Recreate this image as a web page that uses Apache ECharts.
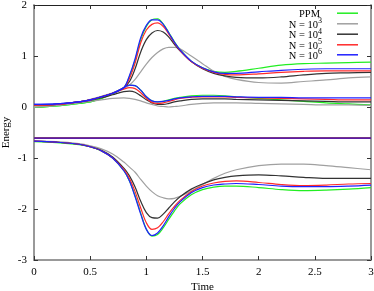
<!DOCTYPE html>
<html><head><meta charset="utf-8">
<script src="https://cdn.jsdelivr.net/npm/echarts@6/dist/echarts.min.js"></script>
<style>html,body{margin:0;padding:0;background:#fff}#c{width:374px;height:291px}</style>
</head><body><div id="c"></div>
<script>
const times = [0, 0.2, 0.4, 0.5, 0.6, 0.7, 0.8, 0.85, 0.9, 0.95, 1.0, 1.05, 1.1, 1.15, 1.2, 1.25, 1.3, 1.4, 1.5, 1.6, 1.7, 1.8, 2.0, 2.2, 2.4, 2.6, 2.8, 3.0];
const seriesNames = ['PPM', 'N = 10^3', 'N = 10^4', 'N = 10^5', 'N = 10^6'];
const xTicks = [0, 0.5, 1, 1.5, 2, 2.5, 3];
const yTicks = [-3, -2, -1, 0, 1, 2];

// upper state
const ppmUpper = [-0.01,0.02,0.07,0.10,0.17,0.26,0.38,0.60,0.92,1.32,1.58,1.71,1.73,1.63,1.46,1.28,1.13,0.90,0.77,0.70,0.68,0.70,0.76,0.82,0.85,0.86,0.87,0.88];
const n3Upper = [0.00,0.03,0.10,0.15,0.21,0.28,0.37,0.43,0.54,0.69,0.84,0.97,1.07,1.14,1.17,1.17,1.14,1.00,0.85,0.70,0.60,0.54,0.48,0.47,0.50,0.53,0.57,0.59];
const n4Upper = [0.04,0.05,0.10,0.14,0.20,0.27,0.38,0.50,0.75,1.08,1.32,1.45,1.50,1.47,1.37,1.23,1.10,0.89,0.75,0.66,0.61,0.58,0.57,0.59,0.63,0.66,0.67,0.68];
const n5Upper = [0.04,0.05,0.10,0.14,0.20,0.27,0.38,0.56,0.86,1.26,1.51,1.62,1.65,1.58,1.43,1.26,1.11,0.89,0.76,0.68,0.64,0.63,0.65,0.68,0.70,0.71,0.71,0.71];
const n6Upper = [0.05,0.06,0.10,0.14,0.20,0.27,0.38,0.62,0.95,1.36,1.60,1.71,1.71,1.62,1.45,1.27,1.12,0.90,0.77,0.69,0.66,0.66,0.69,0.72,0.74,0.75,0.75,0.75];
// middle state
const ppmMiddle = [-0.01,0.02,0.07,0.10,0.17,0.26,0.38,0.43,0.42,0.33,0.20,0.12,0.10,0.11,0.14,0.17,0.19,0.22,0.23,0.23,0.22,0.20,0.17,0.14,0.11,0.08,0.06,0.04];
const n3Middle = [0.00,0.03,0.08,0.11,0.14,0.17,0.18,0.17,0.15,0.12,0.08,0.05,0.02,0.01,0.00,0.01,0.02,0.05,0.07,0.08,0.08,0.08,0.07,0.06,0.05,0.04,0.04,0.03];
const n4Middle = [0.04,0.05,0.10,0.13,0.18,0.24,0.30,0.31,0.29,0.22,0.14,0.08,0.05,0.05,0.07,0.10,0.12,0.15,0.16,0.16,0.16,0.15,0.14,0.13,0.12,0.11,0.10,0.10];
const n5Middle = [0.04,0.05,0.10,0.14,0.20,0.27,0.35,0.38,0.36,0.28,0.17,0.09,0.07,0.08,0.11,0.14,0.17,0.19,0.20,0.20,0.20,0.19,0.18,0.17,0.16,0.15,0.14,0.14];
const n6Middle = [0.05,0.06,0.10,0.14,0.20,0.27,0.38,0.43,0.42,0.33,0.20,0.12,0.10,0.11,0.13,0.16,0.18,0.20,0.21,0.21,0.21,0.20,0.19,0.19,0.18,0.18,0.18,0.18];
// constant state
const groundLevel = [-0.61, -0.61, -0.61, -0.61, -0.61];
// lower state
const ppmLower = [-0.68,-0.70,-0.74,-0.78,-0.86,-1.00,-1.25,-1.45,-1.74,-2.08,-2.39,-2.53,-2.50,-2.37,-2.20,-2.04,-1.90,-1.72,-1.62,-1.57,-1.55,-1.55,-1.58,-1.62,-1.64,-1.63,-1.61,-1.58];
const n3Lower = [-0.67,-0.68,-0.72,-0.76,-0.82,-0.92,-1.08,-1.18,-1.28,-1.42,-1.55,-1.66,-1.74,-1.78,-1.80,-1.79,-1.75,-1.65,-1.52,-1.40,-1.30,-1.23,-1.15,-1.12,-1.12,-1.15,-1.19,-1.23];
const n4Lower = [-0.67,-0.69,-0.73,-0.78,-0.85,-0.98,-1.20,-1.35,-1.57,-1.85,-2.07,-2.17,-2.18,-2.10,-1.98,-1.86,-1.76,-1.61,-1.51,-1.43,-1.38,-1.35,-1.33,-1.35,-1.38,-1.40,-1.40,-1.40];
const n5Lower = [-0.67,-0.69,-0.73,-0.78,-0.86,-1.00,-1.23,-1.40,-1.66,-1.98,-2.27,-2.40,-2.37,-2.25,-2.09,-1.95,-1.83,-1.66,-1.55,-1.49,-1.46,-1.45,-1.48,-1.52,-1.54,-1.53,-1.51,-1.50];
const n6Lower = [-0.67,-0.69,-0.73,-0.78,-0.86,-1.00,-1.25,-1.45,-1.76,-2.10,-2.40,-2.52,-2.47,-2.33,-2.15,-1.99,-1.86,-1.68,-1.58,-1.53,-1.51,-1.50,-1.52,-1.55,-1.56,-1.56,-1.55,-1.53];

const colors = ['#22ee22', '#a0a0a0', '#333333', '#ff2a2a', '#2020ff'];
const families = [
  [ppmUpper, ppmMiddle, ppmLower],
  [n3Upper, n3Middle, n3Lower],
  [n4Upper, n4Middle, n4Lower],
  [n5Upper, n5Middle, n5Lower],
  [n6Upper, n6Middle, n6Lower]
];
const FONT = 'Liberation Serif';

const series = [];
families.forEach((fam, i) => {
  fam.forEach(arr => {
    series.push({
      type: 'line', name: seriesNames[i], showSymbol: false, smooth: 0.35,
      data: times.map((t, k) => [t, arr[k]]),
      lineStyle: { color: colors[i], width: 1.2 }, itemStyle: { color: colors[i] },
      z: 2 + i
    });
  });
  series.push({
    type: 'line', name: seriesNames[i], showSymbol: false,
    data: [[times[0], groundLevel[i]], [times[times.length - 1], groundLevel[i]]],
    lineStyle: { color: i === 4 ? '#3515d0' : colors[i], width: 1.3 }, itemStyle: { color: colors[i] },
    z: 2 + i
  });
});

function fmtName(n) {
  const m = n.match(/^(.*)\^(\d+)$/);
  if (m) return '{b|' + m[1] + '}{s|' + m[2] + '}';
  return '{b|' + n + '}{s| }';
}
const legendTops = [6.7, 17.3, 27.7, 38.3, 48.3];
const legends = seriesNames.map((n, i) => ({
  show: true,
  data: [n], right: 16, top: legendTops[i], orient: 'horizontal', align: 'right',
  itemWidth: 21, itemHeight: 1.5, padding: 0, selectedMode: false,
  icon: 'rect',
  itemStyle: { color: colors[i] },
  formatter: fmtName,
  textStyle: {
    padding: [0, 10, 0, 0],
    rich: {
      b: { fontFamily: FONT, fontSize: 10.5, color: '#000', lineHeight: 13, verticalAlign: 'bottom' },
      s: { fontFamily: FONT, fontSize: 8, color: '#000', lineHeight: 13, verticalAlign: 'top' }
    }
  }
}));

const axisLabel = { fontFamily: FONT, fontSize: 11, color: '#000' };
const option = {
  animation: false,
  backgroundColor: '#fff',
  grid: { left: 34, right: 3, top: 5, bottom: 31, containLabel: false, outerBoundsMode: 'none' },
  legend: legends,
  xAxis: [{
    type: 'value', min: 0, max: 3, interval: 0.5,
    name: 'Time', nameLocation: 'middle', nameGap: 22, nameMoveOverlap: false,
    nameTextStyle: { fontFamily: FONT, fontSize: 11, color: '#000' },
    axisLine: { show: true, onZero: false, lineStyle: { color: '#999', width: 2 } },
    axisTick: { inside: true, length: 4, lineStyle: { color: '#333' } },
    axisLabel: Object.assign({ margin: 7, formatter: v => xTicks.includes(v) ? String(v) : '' }, axisLabel),
    splitLine: { show: false }
  }, {
    type: 'value', min: 0, max: 3, interval: 0.5, position: 'top',
    axisLine: { show: true, onZero: false, lineStyle: { color: '#222', width: 1 } },
    axisTick: { inside: true, length: 4, lineStyle: { color: '#333' } },
    axisLabel: { show: false }, splitLine: { show: false }
  }],
  yAxis: [{
    type: 'value', min: -3, max: 2, interval: 1,
    name: 'Energy', nameLocation: 'middle', nameGap: 22, nameMoveOverlap: false,
    nameTextStyle: { fontFamily: FONT, fontSize: 11, color: '#000' },
    axisLine: { show: true, onZero: false, lineStyle: { color: '#999', width: 2 } },
    axisTick: { inside: true, length: 4, lineStyle: { color: '#333' } },
    axisLabel: Object.assign({ margin: 7, formatter: v => yTicks.includes(v) ? String(v) : '' }, axisLabel),
    splitLine: { show: false }
  }, {
    type: 'value', min: -3, max: 2, interval: 1, position: 'right',
    axisLine: { show: true, onZero: false, lineStyle: { color: '#999', width: 2 } },
    axisTick: { inside: true, length: 4, lineStyle: { color: '#333' } },
    axisLabel: { show: false }, splitLine: { show: false }
  }],
  series: series
};
const chart = echarts.init(document.getElementById('c'), null, { renderer: 'canvas' });
chart.setOption(option);
</script>
</body></html>
